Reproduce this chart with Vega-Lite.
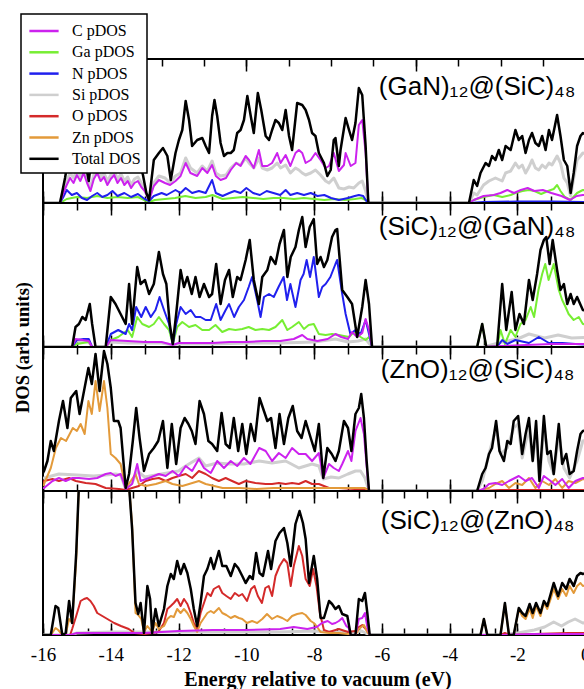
{
"$schema":"https://vega.github.io/schema/vega-lite/v6.json",
"padding":{"left":12,"top":13,"right":0,"bottom":0},
"background":"white",
"spacing":0,
"bounds":"flush",
"config":{"view":{"stroke":"black","strokeWidth":2},"axis":{"domain":false,"grid":false,"tickColor":"black","tickWidth":1.5,"labelColor":"black","titleColor":"black","labelFont":"Liberation Serif","titleFont":"Liberation Serif"},"legend":{"strokeWidth":1.5},"concat":{"spacing":0}},
"datasets":{
"p1":[
{"s":"Si","x":-15.5,"y":0},{"s":"Si","x":-15.4,"y":12},{"s":"Si","x":-15.3,"y":22},{"s":"Si","x":-15.2,"y":30},{"s":"Si","x":-15.1,"y":25},{"s":"Si","x":-15.0,"y":33},{"s":"Si","x":-14.9,"y":27},{"s":"Si","x":-14.8,"y":35},{"s":"Si","x":-14.7,"y":25},{"s":"Si","x":-14.6,"y":15},{"s":"Si","x":-14.5,"y":28},{"s":"Si","x":-14.4,"y":33},{"s":"Si","x":-14.3,"y":26},{"s":"Si","x":-14.2,"y":30},{"s":"Si","x":-14.1,"y":22},{"s":"Si","x":-14.0,"y":28},{"s":"Si","x":-13.9,"y":32},{"s":"Si","x":-13.8,"y":24},{"s":"Si","x":-13.7,"y":29},{"s":"Si","x":-13.6,"y":22},{"s":"Si","x":-13.5,"y":26},{"s":"Si","x":-13.4,"y":18},{"s":"Si","x":-13.3,"y":24},{"s":"Si","x":-13.2,"y":26},{"s":"Si","x":-13.1,"y":20},{"s":"Si","x":-13.0,"y":14},{"s":"Si","x":-12.87,"y":3},{"s":"Si","x":-12.73,"y":20},{"s":"Si","x":-12.58,"y":27},{"s":"Si","x":-12.4,"y":25},{"s":"Si","x":-12.25,"y":20},{"s":"Si","x":-12.09,"y":27},{"s":"Si","x":-11.94,"y":30},{"s":"Si","x":-11.79,"y":45},{"s":"Si","x":-11.65,"y":35},{"s":"Si","x":-11.45,"y":30},{"s":"Si","x":-11.3,"y":37},{"s":"Si","x":-11.15,"y":32},{"s":"Si","x":-11.01,"y":42},{"s":"Si","x":-10.9,"y":30},{"s":"Si","x":-10.76,"y":27},{"s":"Si","x":-10.6,"y":28},{"s":"Si","x":-10.46,"y":35},{"s":"Si","x":-10.3,"y":40},{"s":"Si","x":-10.17,"y":38},{"s":"Si","x":-10.02,"y":45},{"s":"Si","x":-9.92,"y":40},{"s":"Si","x":-9.78,"y":35},{"s":"Si","x":-9.63,"y":45},{"s":"Si","x":-9.53,"y":35},{"s":"Si","x":-9.38,"y":33},{"s":"Si","x":-9.24,"y":35},{"s":"Si","x":-9.09,"y":40},{"s":"Si","x":-8.99,"y":35},{"s":"Si","x":-8.84,"y":38},{"s":"Si","x":-8.7,"y":30},{"s":"Si","x":-8.55,"y":35},{"s":"Si","x":-8.45,"y":33},{"s":"Si","x":-8.35,"y":30},{"s":"Si","x":-8.25,"y":28},{"s":"Si","x":-8.1,"y":30},{"s":"Si","x":-7.96,"y":33},{"s":"Si","x":-7.81,"y":28},{"s":"Si","x":-7.66,"y":22},{"s":"Si","x":-7.56,"y":20},{"s":"Si","x":-7.42,"y":25},{"s":"Si","x":-7.27,"y":15},{"s":"Si","x":-7.12,"y":14},{"s":"Si","x":-6.97,"y":16},{"s":"Si","x":-6.83,"y":15},{"s":"Si","x":-6.68,"y":20},{"s":"Si","x":-6.58,"y":22},{"s":"Si","x":-6.48,"y":12},{"s":"Si","x":-6.4,"y":0},{"s":"Si","x":-3.43,"y":0},{"s":"Si","x":-3.29,"y":10},{"s":"Si","x":-3.19,"y":8},{"s":"Si","x":-3.0,"y":18},{"s":"Si","x":-2.84,"y":22},{"s":"Si","x":-2.65,"y":25},{"s":"Si","x":-2.45,"y":22},{"s":"Si","x":-2.35,"y":30},{"s":"Si","x":-2.2,"y":32},{"s":"Si","x":-2.06,"y":40},{"s":"Si","x":-1.96,"y":35},{"s":"Si","x":-1.86,"y":38},{"s":"Si","x":-1.76,"y":30},{"s":"Si","x":-1.66,"y":36},{"s":"Si","x":-1.57,"y":43},{"s":"Si","x":-1.47,"y":35},{"s":"Si","x":-1.37,"y":33},{"s":"Si","x":-1.27,"y":38},{"s":"Si","x":-1.17,"y":35},{"s":"Si","x":-1.07,"y":40},{"s":"Si","x":-0.98,"y":38},{"s":"Si","x":-0.83,"y":47},{"s":"Si","x":-0.73,"y":40},{"s":"Si","x":-0.63,"y":25},{"s":"Si","x":-0.53,"y":20},{"s":"Si","x":-0.43,"y":7},{"s":"Si","x":-0.34,"y":25},{"s":"Si","x":-0.24,"y":43},{"s":"Si","x":-0.14,"y":47},{"s":"Si","x":-0.07,"y":50},{"s":"Si","x":0.2,"y":48},
{"s":"Ga","x":-15.5,"y":0},{"s":"Ga","x":-15.3,"y":4},{"s":"Ga","x":-15.0,"y":6},{"s":"Ga","x":-14.7,"y":5},{"s":"Ga","x":-14.4,"y":7},{"s":"Ga","x":-14.1,"y":5},{"s":"Ga","x":-13.8,"y":6},{"s":"Ga","x":-13.5,"y":5},{"s":"Ga","x":-13.2,"y":6},{"s":"Ga","x":-12.95,"y":2},{"s":"Ga","x":-12.87,"y":1},{"s":"Ga","x":-12.7,"y":3},{"s":"Ga","x":-12.4,"y":4},{"s":"Ga","x":-12.1,"y":5},{"s":"Ga","x":-11.8,"y":7},{"s":"Ga","x":-11.5,"y":5},{"s":"Ga","x":-11.2,"y":6},{"s":"Ga","x":-11.0,"y":8},{"s":"Ga","x":-10.7,"y":4},{"s":"Ga","x":-10.4,"y":5},{"s":"Ga","x":-10.1,"y":6},{"s":"Ga","x":-9.8,"y":5},{"s":"Ga","x":-9.5,"y":4},{"s":"Ga","x":-9.2,"y":5},{"s":"Ga","x":-8.9,"y":5},{"s":"Ga","x":-8.6,"y":4},{"s":"Ga","x":-8.3,"y":5},{"s":"Ga","x":-8.0,"y":4},{"s":"Ga","x":-7.7,"y":3},{"s":"Ga","x":-7.4,"y":4},{"s":"Ga","x":-7.1,"y":3},{"s":"Ga","x":-6.8,"y":4},{"s":"Ga","x":-6.6,"y":5},{"s":"Ga","x":-6.48,"y":3},{"s":"Ga","x":-6.4,"y":0},{"s":"Ga","x":-3.43,"y":0},{"s":"Ga","x":-3.29,"y":3},{"s":"Ga","x":-3.0,"y":6},{"s":"Ga","x":-2.7,"y":8},{"s":"Ga","x":-2.45,"y":6},{"s":"Ga","x":-2.2,"y":8},{"s":"Ga","x":-2.06,"y":10},{"s":"Ga","x":-1.85,"y":12},{"s":"Ga","x":-1.66,"y":13},{"s":"Ga","x":-1.5,"y":12},{"s":"Ga","x":-1.3,"y":9},{"s":"Ga","x":-1.1,"y":12},{"s":"Ga","x":-0.93,"y":14},{"s":"Ga","x":-0.83,"y":18},{"s":"Ga","x":-0.73,"y":12},{"s":"Ga","x":-0.6,"y":6},{"s":"Ga","x":-0.43,"y":3},{"s":"Ga","x":-0.24,"y":10},{"s":"Ga","x":-0.07,"y":13},{"s":"Ga","x":0.2,"y":12},
{"s":"N","x":-15.5,"y":0},{"s":"N","x":-15.4,"y":6},{"s":"N","x":-15.3,"y":13},{"s":"N","x":-15.15,"y":8},{"s":"N","x":-15.0,"y":10},{"s":"N","x":-14.85,"y":5},{"s":"N","x":-14.7,"y":3},{"s":"N","x":-14.55,"y":7},{"s":"N","x":-14.4,"y":10},{"s":"N","x":-14.25,"y":6},{"s":"N","x":-14.1,"y":8},{"s":"N","x":-13.95,"y":12},{"s":"N","x":-13.8,"y":7},{"s":"N","x":-13.6,"y":10},{"s":"N","x":-13.4,"y":6},{"s":"N","x":-13.2,"y":9},{"s":"N","x":-13.0,"y":4},{"s":"N","x":-12.87,"y":2},{"s":"N","x":-12.73,"y":7},{"s":"N","x":-12.5,"y":10},{"s":"N","x":-12.35,"y":8},{"s":"N","x":-12.09,"y":13},{"s":"N","x":-11.94,"y":10},{"s":"N","x":-11.79,"y":15},{"s":"N","x":-11.6,"y":10},{"s":"N","x":-11.4,"y":12},{"s":"N","x":-11.2,"y":10},{"s":"N","x":-11.01,"y":23},{"s":"N","x":-10.9,"y":10},{"s":"N","x":-10.7,"y":7},{"s":"N","x":-10.5,"y":10},{"s":"N","x":-10.35,"y":12},{"s":"N","x":-10.17,"y":10},{"s":"N","x":-10.0,"y":15},{"s":"N","x":-9.8,"y":10},{"s":"N","x":-9.6,"y":8},{"s":"N","x":-9.4,"y":12},{"s":"N","x":-9.2,"y":10},{"s":"N","x":-9.0,"y":8},{"s":"N","x":-8.84,"y":13},{"s":"N","x":-8.7,"y":8},{"s":"N","x":-8.5,"y":10},{"s":"N","x":-8.3,"y":8},{"s":"N","x":-8.1,"y":10},{"s":"N","x":-7.9,"y":7},{"s":"N","x":-7.7,"y":8},{"s":"N","x":-7.5,"y":5},{"s":"N","x":-7.27,"y":3},{"s":"N","x":-7.0,"y":5},{"s":"N","x":-6.8,"y":7},{"s":"N","x":-6.68,"y":8},{"s":"N","x":-6.55,"y":7},{"s":"N","x":-6.48,"y":3},{"s":"N","x":-6.4,"y":0},{"s":"N","x":-3.43,"y":0},{"s":"N","x":-3.0,"y":1},{"s":"N","x":-2.0,"y":1.5},{"s":"N","x":-1.0,"y":1.5},{"s":"N","x":0.2,"y":1},
{"s":"C","x":-15.5,"y":0},{"s":"C","x":-15.4,"y":10},{"s":"C","x":-15.3,"y":18},{"s":"C","x":-15.2,"y":25},{"s":"C","x":-15.1,"y":20},{"s":"C","x":-15.0,"y":28},{"s":"C","x":-14.9,"y":22},{"s":"C","x":-14.8,"y":30},{"s":"C","x":-14.7,"y":20},{"s":"C","x":-14.6,"y":12},{"s":"C","x":-14.5,"y":24},{"s":"C","x":-14.4,"y":30},{"s":"C","x":-14.3,"y":22},{"s":"C","x":-14.2,"y":26},{"s":"C","x":-14.1,"y":18},{"s":"C","x":-14.0,"y":24},{"s":"C","x":-13.9,"y":28},{"s":"C","x":-13.8,"y":20},{"s":"C","x":-13.7,"y":25},{"s":"C","x":-13.6,"y":18},{"s":"C","x":-13.5,"y":22},{"s":"C","x":-13.4,"y":15},{"s":"C","x":-13.3,"y":20},{"s":"C","x":-13.2,"y":22},{"s":"C","x":-13.1,"y":16},{"s":"C","x":-13.0,"y":12},{"s":"C","x":-12.87,"y":3},{"s":"C","x":-12.73,"y":17},{"s":"C","x":-12.58,"y":23},{"s":"C","x":-12.4,"y":20},{"s":"C","x":-12.25,"y":18},{"s":"C","x":-12.09,"y":22},{"s":"C","x":-11.94,"y":27},{"s":"C","x":-11.79,"y":40},{"s":"C","x":-11.65,"y":30},{"s":"C","x":-11.45,"y":27},{"s":"C","x":-11.3,"y":35},{"s":"C","x":-11.15,"y":30},{"s":"C","x":-11.01,"y":38},{"s":"C","x":-10.9,"y":27},{"s":"C","x":-10.76,"y":23},{"s":"C","x":-10.6,"y":25},{"s":"C","x":-10.46,"y":33},{"s":"C","x":-10.3,"y":40},{"s":"C","x":-10.17,"y":37},{"s":"C","x":-10.02,"y":47},{"s":"C","x":-9.92,"y":43},{"s":"C","x":-9.78,"y":35},{"s":"C","x":-9.63,"y":53},{"s":"C","x":-9.53,"y":37},{"s":"C","x":-9.38,"y":37},{"s":"C","x":-9.24,"y":40},{"s":"C","x":-9.09,"y":50},{"s":"C","x":-8.99,"y":40},{"s":"C","x":-8.84,"y":48},{"s":"C","x":-8.7,"y":37},{"s":"C","x":-8.55,"y":50},{"s":"C","x":-8.45,"y":53},{"s":"C","x":-8.35,"y":50},{"s":"C","x":-8.25,"y":40},{"s":"C","x":-8.1,"y":43},{"s":"C","x":-7.96,"y":50},{"s":"C","x":-7.81,"y":43},{"s":"C","x":-7.66,"y":35},{"s":"C","x":-7.56,"y":37},{"s":"C","x":-7.42,"y":50},{"s":"C","x":-7.27,"y":32},{"s":"C","x":-7.12,"y":38},{"s":"C","x":-7.07,"y":50},{"s":"C","x":-6.92,"y":37},{"s":"C","x":-6.78,"y":40},{"s":"C","x":-6.68,"y":78},{"s":"C","x":-6.58,"y":83},{"s":"C","x":-6.48,"y":50},{"s":"C","x":-6.4,"y":0},{"s":"C","x":-3.43,"y":0},{"s":"C","x":-3.29,"y":3},{"s":"C","x":-3.0,"y":7},{"s":"C","x":-2.7,"y":8},{"s":"C","x":-2.5,"y":10},{"s":"C","x":-2.3,"y":13},{"s":"C","x":-2.1,"y":10},{"s":"C","x":-1.9,"y":13},{"s":"C","x":-1.7,"y":15},{"s":"C","x":-1.5,"y":12},{"s":"C","x":-1.25,"y":13},{"s":"C","x":-1.0,"y":10},{"s":"C","x":-0.7,"y":7},{"s":"C","x":-0.45,"y":3},{"s":"C","x":-0.25,"y":7},{"s":"C","x":-0.07,"y":8},{"s":"C","x":0.2,"y":8},
{"s":"T","x":-16,"y":0},{"s":"T","x":-15.5,"y":0},{"s":"T","x":-15.45,"y":8},{"s":"T","x":-15.35,"y":25},{"s":"T","x":-15.25,"y":45},{"s":"T","x":-15.15,"y":38},{"s":"T","x":-15.05,"y":60},{"s":"T","x":-14.95,"y":48},{"s":"T","x":-14.85,"y":70},{"s":"T","x":-14.75,"y":42},{"s":"T","x":-14.65,"y":22},{"s":"T","x":-14.55,"y":50},{"s":"T","x":-14.45,"y":68},{"s":"T","x":-14.35,"y":48},{"s":"T","x":-14.25,"y":62},{"s":"T","x":-14.15,"y":40},{"s":"T","x":-14.05,"y":55},{"s":"T","x":-13.95,"y":72},{"s":"T","x":-13.85,"y":48},{"s":"T","x":-13.75,"y":62},{"s":"T","x":-13.65,"y":40},{"s":"T","x":-13.55,"y":55},{"s":"T","x":-13.45,"y":35},{"s":"T","x":-13.35,"y":48},{"s":"T","x":-13.25,"y":58},{"s":"T","x":-13.15,"y":40},{"s":"T","x":-13.05,"y":28},{"s":"T","x":-12.95,"y":10},{"s":"T","x":-12.87,"y":3},{"s":"T","x":-12.73,"y":43},{"s":"T","x":-12.58,"y":50},{"s":"T","x":-12.46,"y":55},{"s":"T","x":-12.33,"y":47},{"s":"T","x":-12.23,"y":23},{"s":"T","x":-12.09,"y":50},{"s":"T","x":-11.99,"y":63},{"s":"T","x":-11.89,"y":73},{"s":"T","x":-11.79,"y":102},{"s":"T","x":-11.69,"y":83},{"s":"T","x":-11.6,"y":57},{"s":"T","x":-11.45,"y":63},{"s":"T","x":-11.3,"y":65},{"s":"T","x":-11.2,"y":57},{"s":"T","x":-11.1,"y":50},{"s":"T","x":-11.01,"y":87},{"s":"T","x":-10.94,"y":103},{"s":"T","x":-10.86,"y":87},{"s":"T","x":-10.76,"y":60},{"s":"T","x":-10.66,"y":47},{"s":"T","x":-10.56,"y":50},{"s":"T","x":-10.46,"y":50},{"s":"T","x":-10.37,"y":53},{"s":"T","x":-10.27,"y":70},{"s":"T","x":-10.17,"y":73},{"s":"T","x":-10.07,"y":83},{"s":"T","x":-9.97,"y":107},{"s":"T","x":-9.87,"y":87},{"s":"T","x":-9.78,"y":70},{"s":"T","x":-9.66,"y":110},{"s":"T","x":-9.56,"y":93},{"s":"T","x":-9.43,"y":67},{"s":"T","x":-9.33,"y":63},{"s":"T","x":-9.24,"y":73},{"s":"T","x":-9.14,"y":83},{"s":"T","x":-9.04,"y":80},{"s":"T","x":-8.94,"y":73},{"s":"T","x":-8.84,"y":93},{"s":"T","x":-8.74,"y":67},{"s":"T","x":-8.65,"y":53},{"s":"T","x":-8.5,"y":100},{"s":"T","x":-8.35,"y":98},{"s":"T","x":-8.25,"y":93},{"s":"T","x":-8.15,"y":83},{"s":"T","x":-8.06,"y":70},{"s":"T","x":-7.96,"y":67},{"s":"T","x":-7.86,"y":50},{"s":"T","x":-7.71,"y":40},{"s":"T","x":-7.61,"y":27},{"s":"T","x":-7.51,"y":33},{"s":"T","x":-7.42,"y":63},{"s":"T","x":-7.37,"y":65},{"s":"T","x":-7.27,"y":37},{"s":"T","x":-7.22,"y":53},{"s":"T","x":-7.07,"y":85},{"s":"T","x":-6.97,"y":73},{"s":"T","x":-6.88,"y":63},{"s":"T","x":-6.78,"y":80},{"s":"T","x":-6.68,"y":115},{"s":"T","x":-6.58,"y":108},{"s":"T","x":-6.48,"y":57},{"s":"T","x":-6.4,"y":0},{"s":"T","x":-3.43,"y":0},{"s":"T","x":-3.29,"y":23},{"s":"T","x":-3.19,"y":17},{"s":"T","x":-3.09,"y":30},{"s":"T","x":-2.94,"y":40},{"s":"T","x":-2.84,"y":37},{"s":"T","x":-2.75,"y":47},{"s":"T","x":-2.65,"y":43},{"s":"T","x":-2.55,"y":53},{"s":"T","x":-2.45,"y":43},{"s":"T","x":-2.35,"y":57},{"s":"T","x":-2.2,"y":53},{"s":"T","x":-2.06,"y":73},{"s":"T","x":-1.96,"y":63},{"s":"T","x":-1.86,"y":67},{"s":"T","x":-1.76,"y":50},{"s":"T","x":-1.66,"y":63},{"s":"T","x":-1.57,"y":70},{"s":"T","x":-1.47,"y":60},{"s":"T","x":-1.37,"y":57},{"s":"T","x":-1.27,"y":67},{"s":"T","x":-1.17,"y":53},{"s":"T","x":-1.07,"y":73},{"s":"T","x":-0.98,"y":63},{"s":"T","x":-0.83,"y":88},{"s":"T","x":-0.73,"y":67},{"s":"T","x":-0.63,"y":43},{"s":"T","x":-0.53,"y":37},{"s":"T","x":-0.43,"y":10},{"s":"T","x":-0.34,"y":30},{"s":"T","x":-0.24,"y":57},{"s":"T","x":-0.14,"y":67},{"s":"T","x":-0.07,"y":70},{"s":"T","x":0.2,"y":65}
],
"p2":[
{"s":"Si","x":-15.14,"y":0},{"s":"Si","x":-15.04,"y":6},{"s":"Si","x":-14.65,"y":5},{"s":"Si","x":-14.55,"y":0},{"s":"Si","x":-14.15,"y":0},{"s":"Si","x":-14.0,"y":5},{"s":"Si","x":-13.5,"y":4},{"s":"Si","x":-13.0,"y":4},{"s":"Si","x":-12.5,"y":4},{"s":"Si","x":-12.17,"y":2},{"s":"Si","x":-12.0,"y":3},{"s":"Si","x":-11.0,"y":3},{"s":"Si","x":-10.0,"y":4},{"s":"Si","x":-9.0,"y":4},{"s":"Si","x":-8.0,"y":5},{"s":"Si","x":-7.37,"y":8},{"s":"Si","x":-7.0,"y":5},{"s":"Si","x":-6.7,"y":6},{"s":"Si","x":-6.48,"y":8},{"s":"Si","x":-6.29,"y":0},{"s":"Si","x":-3.0,"y":0},{"s":"Si","x":-2.45,"y":5},{"s":"Si","x":-2.0,"y":8},{"s":"Si","x":-1.66,"y":13},{"s":"Si","x":-1.2,"y":9},{"s":"Si","x":-0.8,"y":12},{"s":"Si","x":-0.4,"y":9},{"s":"Si","x":0.2,"y":10},
{"s":"Ga","x":-15.14,"y":0},{"s":"Ga","x":-15.0,"y":3},{"s":"Ga","x":-14.65,"y":5},{"s":"Ga","x":-14.55,"y":0},{"s":"Ga","x":-14.15,"y":0},{"s":"Ga","x":-14.0,"y":7},{"s":"Ga","x":-13.78,"y":10},{"s":"Ga","x":-13.5,"y":17},{"s":"Ga","x":-13.37,"y":10},{"s":"Ga","x":-13.22,"y":30},{"s":"Ga","x":-13.07,"y":23},{"s":"Ga","x":-12.87,"y":20},{"s":"Ga","x":-12.73,"y":23},{"s":"Ga","x":-12.58,"y":30},{"s":"Ga","x":-12.43,"y":23},{"s":"Ga","x":-12.28,"y":17},{"s":"Ga","x":-12.17,"y":3},{"s":"Ga","x":-12.04,"y":20},{"s":"Ga","x":-11.89,"y":25},{"s":"Ga","x":-11.69,"y":20},{"s":"Ga","x":-11.5,"y":22},{"s":"Ga","x":-11.3,"y":17},{"s":"Ga","x":-11.1,"y":17},{"s":"Ga","x":-10.91,"y":22},{"s":"Ga","x":-10.71,"y":15},{"s":"Ga","x":-10.51,"y":18},{"s":"Ga","x":-10.32,"y":17},{"s":"Ga","x":-10.12,"y":18},{"s":"Ga","x":-9.93,"y":20},{"s":"Ga","x":-9.73,"y":17},{"s":"Ga","x":-9.53,"y":18},{"s":"Ga","x":-9.33,"y":17},{"s":"Ga","x":-9.14,"y":20},{"s":"Ga","x":-8.94,"y":27},{"s":"Ga","x":-8.79,"y":17},{"s":"Ga","x":-8.65,"y":20},{"s":"Ga","x":-8.45,"y":25},{"s":"Ga","x":-8.3,"y":18},{"s":"Ga","x":-8.16,"y":22},{"s":"Ga","x":-8.01,"y":23},{"s":"Ga","x":-7.86,"y":13},{"s":"Ga","x":-7.66,"y":12},{"s":"Ga","x":-7.47,"y":13},{"s":"Ga","x":-7.27,"y":12},{"s":"Ga","x":-6.97,"y":10},{"s":"Ga","x":-6.88,"y":13},{"s":"Ga","x":-6.78,"y":15},{"s":"Ga","x":-6.63,"y":10},{"s":"Ga","x":-6.48,"y":7},{"s":"Ga","x":-6.38,"y":10},{"s":"Ga","x":-6.3,"y":3},{"s":"Ga","x":-6.29,"y":0},{"s":"Ga","x":-3.19,"y":0},{"s":"Ga","x":-3.04,"y":23},{"s":"Ga","x":-2.92,"y":0},{"s":"Ga","x":-2.6,"y":0},{"s":"Ga","x":-2.5,"y":17},{"s":"Ga","x":-2.37,"y":3},{"s":"Ga","x":-2.2,"y":17},{"s":"Ga","x":-2.06,"y":10},{"s":"Ga","x":-1.91,"y":23},{"s":"Ga","x":-1.76,"y":27},{"s":"Ga","x":-1.61,"y":40},{"s":"Ga","x":-1.51,"y":30},{"s":"Ga","x":-1.38,"y":57},{"s":"Ga","x":-1.27,"y":73},{"s":"Ga","x":-1.18,"y":83},{"s":"Ga","x":-1.08,"y":67},{"s":"Ga","x":-0.93,"y":83},{"s":"Ga","x":-0.78,"y":57},{"s":"Ga","x":-0.68,"y":47},{"s":"Ga","x":-0.58,"y":40},{"s":"Ga","x":-0.49,"y":33},{"s":"Ga","x":-0.34,"y":27},{"s":"Ga","x":-0.19,"y":30},{"s":"Ga","x":-0.07,"y":23},{"s":"Ga","x":0.2,"y":22},
{"s":"N","x":-15.14,"y":0},{"s":"N","x":-15.0,"y":7},{"s":"N","x":-14.8,"y":8},{"s":"N","x":-14.65,"y":8},{"s":"N","x":-14.55,"y":0},{"s":"N","x":-14.15,"y":0},{"s":"N","x":-14.0,"y":13},{"s":"N","x":-13.78,"y":17},{"s":"N","x":-13.56,"y":13},{"s":"N","x":-13.46,"y":23},{"s":"N","x":-13.37,"y":17},{"s":"N","x":-13.25,"y":40},{"s":"N","x":-13.1,"y":30},{"s":"N","x":-12.97,"y":40},{"s":"N","x":-12.82,"y":30},{"s":"N","x":-12.68,"y":37},{"s":"N","x":-12.56,"y":50},{"s":"N","x":-12.43,"y":37},{"s":"N","x":-12.28,"y":23},{"s":"N","x":-12.17,"y":3},{"s":"N","x":-12.07,"y":23},{"s":"N","x":-11.94,"y":40},{"s":"N","x":-11.79,"y":33},{"s":"N","x":-11.64,"y":37},{"s":"N","x":-11.5,"y":30},{"s":"N","x":-11.35,"y":30},{"s":"N","x":-11.2,"y":27},{"s":"N","x":-11.05,"y":27},{"s":"N","x":-10.89,"y":43},{"s":"N","x":-10.76,"y":27},{"s":"N","x":-10.61,"y":37},{"s":"N","x":-10.51,"y":43},{"s":"N","x":-10.36,"y":30},{"s":"N","x":-10.22,"y":40},{"s":"N","x":-10.07,"y":47},{"s":"N","x":-9.93,"y":60},{"s":"N","x":-9.83,"y":70},{"s":"N","x":-9.68,"y":47},{"s":"N","x":-9.58,"y":30},{"s":"N","x":-9.48,"y":50},{"s":"N","x":-9.33,"y":53},{"s":"N","x":-9.19,"y":50},{"s":"N","x":-9.05,"y":60},{"s":"N","x":-8.9,"y":70},{"s":"N","x":-8.8,"y":47},{"s":"N","x":-8.7,"y":63},{"s":"N","x":-8.55,"y":40},{"s":"N","x":-8.4,"y":67},{"s":"N","x":-8.31,"y":73},{"s":"N","x":-8.22,"y":87},{"s":"N","x":-8.12,"y":70},{"s":"N","x":-8.01,"y":90},{"s":"N","x":-7.86,"y":50},{"s":"N","x":-7.76,"y":60},{"s":"N","x":-7.66,"y":63},{"s":"N","x":-7.52,"y":70},{"s":"N","x":-7.37,"y":83},{"s":"N","x":-7.32,"y":87},{"s":"N","x":-7.17,"y":53},{"s":"N","x":-7.07,"y":33},{"s":"N","x":-6.93,"y":13},{"s":"N","x":-6.78,"y":17},{"s":"N","x":-6.63,"y":13},{"s":"N","x":-6.48,"y":27},{"s":"N","x":-6.38,"y":13},{"s":"N","x":-6.29,"y":0},{"s":"N","x":-2.6,"y":0},{"s":"N","x":-2.45,"y":7},{"s":"N","x":-2.3,"y":3},{"s":"N","x":-2.06,"y":7},{"s":"N","x":-1.66,"y":4},{"s":"N","x":-1.37,"y":10},{"s":"N","x":-1.07,"y":4},{"s":"N","x":-0.68,"y":4},{"s":"N","x":-0.29,"y":3},{"s":"N","x":0.2,"y":2},
{"s":"C","x":-15.14,"y":0},{"s":"C","x":-15.04,"y":8},{"s":"C","x":-14.65,"y":6},{"s":"C","x":-14.55,"y":0},{"s":"C","x":-14.15,"y":0},{"s":"C","x":-14.0,"y":7},{"s":"C","x":-13.5,"y":6},{"s":"C","x":-13.0,"y":5},{"s":"C","x":-12.5,"y":5},{"s":"C","x":-12.17,"y":2},{"s":"C","x":-12.0,"y":4},{"s":"C","x":-11.5,"y":4},{"s":"C","x":-11.0,"y":4},{"s":"C","x":-10.5,"y":5},{"s":"C","x":-10.0,"y":5},{"s":"C","x":-9.5,"y":6},{"s":"C","x":-9.0,"y":6},{"s":"C","x":-8.6,"y":8},{"s":"C","x":-8.35,"y":12},{"s":"C","x":-8.2,"y":8},{"s":"C","x":-7.9,"y":6},{"s":"C","x":-7.6,"y":8},{"s":"C","x":-7.37,"y":13},{"s":"C","x":-7.2,"y":10},{"s":"C","x":-7.0,"y":8},{"s":"C","x":-6.88,"y":15},{"s":"C","x":-6.73,"y":10},{"s":"C","x":-6.58,"y":14},{"s":"C","x":-6.48,"y":28},{"s":"C","x":-6.38,"y":17},{"s":"C","x":-6.29,"y":0},{"s":"C","x":-3.0,"y":0},{"s":"C","x":-2.5,"y":1},{"s":"C","x":-1.0,"y":3},{"s":"C","x":0.2,"y":3},
{"s":"T","x":-16,"y":0},{"s":"T","x":-15.14,"y":0},{"s":"T","x":-15.04,"y":20},{"s":"T","x":-14.94,"y":23},{"s":"T","x":-14.84,"y":30},{"s":"T","x":-14.74,"y":27},{"s":"T","x":-14.62,"y":43},{"s":"T","x":-14.55,"y":23},{"s":"T","x":-14.45,"y":0},{"s":"T","x":-14.15,"y":0},{"s":"T","x":-14.0,"y":50},{"s":"T","x":-13.86,"y":43},{"s":"T","x":-13.71,"y":33},{"s":"T","x":-13.56,"y":23},{"s":"T","x":-13.46,"y":63},{"s":"T","x":-13.37,"y":23},{"s":"T","x":-13.22,"y":80},{"s":"T","x":-13.12,"y":63},{"s":"T","x":-12.99,"y":67},{"s":"T","x":-12.87,"y":53},{"s":"T","x":-12.73,"y":63},{"s":"T","x":-12.58,"y":95},{"s":"T","x":-12.46,"y":73},{"s":"T","x":-12.36,"y":63},{"s":"T","x":-12.26,"y":23},{"s":"T","x":-12.17,"y":3},{"s":"T","x":-12.07,"y":33},{"s":"T","x":-11.94,"y":77},{"s":"T","x":-11.84,"y":60},{"s":"T","x":-11.74,"y":70},{"s":"T","x":-11.61,"y":53},{"s":"T","x":-11.5,"y":70},{"s":"T","x":-11.38,"y":50},{"s":"T","x":-11.25,"y":63},{"s":"T","x":-11.1,"y":50},{"s":"T","x":-11.01,"y":53},{"s":"T","x":-10.89,"y":83},{"s":"T","x":-10.76,"y":43},{"s":"T","x":-10.63,"y":67},{"s":"T","x":-10.51,"y":77},{"s":"T","x":-10.4,"y":50},{"s":"T","x":-10.27,"y":70},{"s":"T","x":-10.17,"y":67},{"s":"T","x":-10.02,"y":87},{"s":"T","x":-9.9,"y":107},{"s":"T","x":-9.78,"y":67},{"s":"T","x":-9.63,"y":43},{"s":"T","x":-9.53,"y":70},{"s":"T","x":-9.38,"y":77},{"s":"T","x":-9.28,"y":90},{"s":"T","x":-9.14,"y":83},{"s":"T","x":-9.02,"y":103},{"s":"T","x":-8.89,"y":117},{"s":"T","x":-8.79,"y":70},{"s":"T","x":-8.69,"y":90},{"s":"T","x":-8.55,"y":100},{"s":"T","x":-8.45,"y":117},{"s":"T","x":-8.35,"y":130},{"s":"T","x":-8.25,"y":100},{"s":"T","x":-8.13,"y":120},{"s":"T","x":-8.01,"y":128},{"s":"T","x":-7.91,"y":83},{"s":"T","x":-7.81,"y":90},{"s":"T","x":-7.71,"y":80},{"s":"T","x":-7.61,"y":87},{"s":"T","x":-7.47,"y":110},{"s":"T","x":-7.37,"y":117},{"s":"T","x":-7.32,"y":118},{"s":"T","x":-7.17,"y":57},{"s":"T","x":-7.02,"y":50},{"s":"T","x":-6.88,"y":43},{"s":"T","x":-6.73,"y":10},{"s":"T","x":-6.58,"y":40},{"s":"T","x":-6.48,"y":67},{"s":"T","x":-6.38,"y":43},{"s":"T","x":-6.29,"y":0},{"s":"T","x":-3.19,"y":0},{"s":"T","x":-3.04,"y":23},{"s":"T","x":-2.92,"y":0},{"s":"T","x":-2.6,"y":0},{"s":"T","x":-2.45,"y":63},{"s":"T","x":-2.33,"y":17},{"s":"T","x":-2.17,"y":55},{"s":"T","x":-2.06,"y":17},{"s":"T","x":-1.94,"y":33},{"s":"T","x":-1.81,"y":23},{"s":"T","x":-1.66,"y":67},{"s":"T","x":-1.55,"y":47},{"s":"T","x":-1.42,"y":73},{"s":"T","x":-1.32,"y":97},{"s":"T","x":-1.22,"y":107},{"s":"T","x":-1.15,"y":110},{"s":"T","x":-1.05,"y":83},{"s":"T","x":-0.96,"y":107},{"s":"T","x":-0.83,"y":77},{"s":"T","x":-0.73,"y":57},{"s":"T","x":-0.63,"y":63},{"s":"T","x":-0.53,"y":43},{"s":"T","x":-0.43,"y":53},{"s":"T","x":-0.34,"y":43},{"s":"T","x":-0.24,"y":50},{"s":"T","x":-0.07,"y":37},{"s":"T","x":0.2,"y":35}
],
"p3":[
{"s":"Si","x":-16,"y":12},{"s":"Si","x":-15.97,"y":13},{"s":"Si","x":-15.53,"y":17},{"s":"Si","x":-15.0,"y":16},{"s":"Si","x":-14.5,"y":15},{"s":"Si","x":-14.15,"y":16},{"s":"Si","x":-13.86,"y":17},{"s":"Si","x":-13.71,"y":16},{"s":"Si","x":-13.56,"y":2},{"s":"Si","x":-13.37,"y":8},{"s":"Si","x":-13.22,"y":20},{"s":"Si","x":-13.0,"y":14},{"s":"Si","x":-12.5,"y":17},{"s":"Si","x":-12.0,"y":20},{"s":"Si","x":-11.79,"y":25},{"s":"Si","x":-11.4,"y":33},{"s":"Si","x":-11.2,"y":25},{"s":"Si","x":-10.86,"y":28},{"s":"Si","x":-10.5,"y":27},{"s":"Si","x":-10.07,"y":27},{"s":"Si","x":-9.62,"y":30},{"s":"Si","x":-9.24,"y":28},{"s":"Si","x":-8.84,"y":30},{"s":"Si","x":-8.45,"y":23},{"s":"Si","x":-8.06,"y":27},{"s":"Si","x":-7.86,"y":25},{"s":"Si","x":-7.73,"y":12},{"s":"Si","x":-7.5,"y":14},{"s":"Si","x":-7.27,"y":13},{"s":"Si","x":-7.0,"y":17},{"s":"Si","x":-6.78,"y":20},{"s":"Si","x":-6.63,"y":20},{"s":"Si","x":-6.5,"y":13},{"s":"Si","x":-6.38,"y":0},{"s":"Si","x":-3.19,"y":0},{"s":"Si","x":-3.04,"y":10},{"s":"Si","x":-2.94,"y":23},{"s":"Si","x":-2.84,"y":37},{"s":"Si","x":-2.63,"y":63},{"s":"Si","x":-2.5,"y":37},{"s":"Si","x":-2.3,"y":43},{"s":"Si","x":-2.11,"y":63},{"s":"Si","x":-1.98,"y":67},{"s":"Si","x":-1.86,"y":33},{"s":"Si","x":-1.66,"y":63},{"s":"Si","x":-1.55,"y":30},{"s":"Si","x":-1.45,"y":60},{"s":"Si","x":-1.35,"y":10},{"s":"Si","x":-1.22,"y":63},{"s":"Si","x":-1.07,"y":30},{"s":"Si","x":-0.93,"y":17},{"s":"Si","x":-0.78,"y":57},{"s":"Si","x":-0.63,"y":23},{"s":"Si","x":-0.46,"y":13},{"s":"Si","x":-0.24,"y":30},{"s":"Si","x":-0.07,"y":50},{"s":"Si","x":0.2,"y":52},
{"s":"O","x":-16,"y":8},{"s":"O","x":-15.97,"y":10},{"s":"O","x":-15.72,"y":12},{"s":"O","x":-15.53,"y":10},{"s":"O","x":-15.23,"y":13},{"s":"O","x":-15.03,"y":10},{"s":"O","x":-14.74,"y":8},{"s":"O","x":-14.45,"y":7},{"s":"O","x":-14.15,"y":3},{"s":"O","x":-13.76,"y":2},{"s":"O","x":-13.56,"y":1},{"s":"O","x":-13.37,"y":3},{"s":"O","x":-13.17,"y":5},{"s":"O","x":-12.97,"y":10},{"s":"O","x":-12.77,"y":12},{"s":"O","x":-12.58,"y":13},{"s":"O","x":-12.38,"y":10},{"s":"O","x":-12.18,"y":13},{"s":"O","x":-11.99,"y":15},{"s":"O","x":-11.79,"y":17},{"s":"O","x":-11.6,"y":13},{"s":"O","x":-11.4,"y":20},{"s":"O","x":-11.2,"y":17},{"s":"O","x":-11.01,"y":13},{"s":"O","x":-10.81,"y":10},{"s":"O","x":-10.61,"y":13},{"s":"O","x":-10.42,"y":10},{"s":"O","x":-10.22,"y":7},{"s":"O","x":-10.02,"y":10},{"s":"O","x":-9.73,"y":8},{"s":"O","x":-9.43,"y":7},{"s":"O","x":-9.24,"y":7},{"s":"O","x":-9.04,"y":8},{"s":"O","x":-8.84,"y":7},{"s":"O","x":-8.65,"y":8},{"s":"O","x":-8.45,"y":7},{"s":"O","x":-8.25,"y":10},{"s":"O","x":-8.06,"y":7},{"s":"O","x":-7.86,"y":7},{"s":"O","x":-7.56,"y":3},{"s":"O","x":-7.27,"y":3},{"s":"O","x":-6.8,"y":2},{"s":"O","x":-6.45,"y":2},{"s":"O","x":-6.38,"y":0},{"s":"O","x":-3.19,"y":0},{"s":"O","x":-2.5,"y":1},{"s":"O","x":-1.0,"y":1},{"s":"O","x":0.2,"y":1},
{"s":"Zn","x":-16,"y":5},{"s":"Zn","x":-15.97,"y":7},{"s":"Zn","x":-15.77,"y":23},{"s":"Zn","x":-15.62,"y":43},{"s":"Zn","x":-15.47,"y":53},{"s":"Zn","x":-15.32,"y":50},{"s":"Zn","x":-15.12,"y":63},{"s":"Zn","x":-15.0,"y":60},{"s":"Zn","x":-14.89,"y":67},{"s":"Zn","x":-14.77,"y":57},{"s":"Zn","x":-14.66,"y":90},{"s":"Zn","x":-14.56,"y":77},{"s":"Zn","x":-14.45,"y":110},{"s":"Zn","x":-14.33,"y":80},{"s":"Zn","x":-14.2,"y":110},{"s":"Zn","x":-14.1,"y":83},{"s":"Zn","x":-14.0,"y":37},{"s":"Zn","x":-13.86,"y":33},{"s":"Zn","x":-13.71,"y":27},{"s":"Zn","x":-13.56,"y":3},{"s":"Zn","x":-13.41,"y":10},{"s":"Zn","x":-13.27,"y":17},{"s":"Zn","x":-13.17,"y":7},{"s":"Zn","x":-12.97,"y":5},{"s":"Zn","x":-12.67,"y":7},{"s":"Zn","x":-12.38,"y":10},{"s":"Zn","x":-12.18,"y":7},{"s":"Zn","x":-11.89,"y":5},{"s":"Zn","x":-11.69,"y":7},{"s":"Zn","x":-11.4,"y":10},{"s":"Zn","x":-11.2,"y":7},{"s":"Zn","x":-10.7,"y":3},{"s":"Zn","x":-10.2,"y":3},{"s":"Zn","x":-9.7,"y":2},{"s":"Zn","x":-9.2,"y":3},{"s":"Zn","x":-8.2,"y":3},{"s":"Zn","x":-7.27,"y":3},{"s":"Zn","x":-6.8,"y":3},{"s":"Zn","x":-6.5,"y":3},{"s":"Zn","x":-6.38,"y":0},{"s":"Zn","x":-3.19,"y":0},{"s":"Zn","x":-2.84,"y":3},{"s":"Zn","x":-2.65,"y":7},{"s":"Zn","x":-2.45,"y":10},{"s":"Zn","x":-2.25,"y":3},{"s":"Zn","x":-2.06,"y":8},{"s":"Zn","x":-1.86,"y":6},{"s":"Zn","x":-1.66,"y":13},{"s":"Zn","x":-1.47,"y":3},{"s":"Zn","x":-1.27,"y":10},{"s":"Zn","x":-1.07,"y":6},{"s":"Zn","x":-0.88,"y":12},{"s":"Zn","x":-0.68,"y":3},{"s":"Zn","x":-0.49,"y":10},{"s":"Zn","x":-0.29,"y":8},{"s":"Zn","x":-0.07,"y":12},{"s":"Zn","x":0.2,"y":11},
{"s":"C","x":-16,"y":3},{"s":"C","x":-15.97,"y":3},{"s":"C","x":-15.72,"y":10},{"s":"C","x":-15.53,"y":13},{"s":"C","x":-15.33,"y":10},{"s":"C","x":-15.13,"y":13},{"s":"C","x":-14.94,"y":13},{"s":"C","x":-14.64,"y":12},{"s":"C","x":-14.4,"y":13},{"s":"C","x":-14.15,"y":17},{"s":"C","x":-14.0,"y":18},{"s":"C","x":-13.86,"y":15},{"s":"C","x":-13.71,"y":17},{"s":"C","x":-13.56,"y":2},{"s":"C","x":-13.37,"y":7},{"s":"C","x":-13.22,"y":27},{"s":"C","x":-13.12,"y":10},{"s":"C","x":-12.87,"y":13},{"s":"C","x":-12.58,"y":17},{"s":"C","x":-12.38,"y":15},{"s":"C","x":-12.18,"y":20},{"s":"C","x":-11.99,"y":15},{"s":"C","x":-11.79,"y":25},{"s":"C","x":-11.6,"y":20},{"s":"C","x":-11.4,"y":32},{"s":"C","x":-11.25,"y":23},{"s":"C","x":-11.05,"y":18},{"s":"C","x":-10.86,"y":30},{"s":"C","x":-10.66,"y":23},{"s":"C","x":-10.46,"y":30},{"s":"C","x":-10.27,"y":25},{"s":"C","x":-10.07,"y":33},{"s":"C","x":-9.88,"y":27},{"s":"C","x":-9.62,"y":43},{"s":"C","x":-9.43,"y":40},{"s":"C","x":-9.24,"y":30},{"s":"C","x":-9.04,"y":38},{"s":"C","x":-8.84,"y":33},{"s":"C","x":-8.65,"y":43},{"s":"C","x":-8.45,"y":37},{"s":"C","x":-8.25,"y":37},{"s":"C","x":-8.06,"y":30},{"s":"C","x":-7.86,"y":38},{"s":"C","x":-7.73,"y":13},{"s":"C","x":-7.56,"y":27},{"s":"C","x":-7.42,"y":23},{"s":"C","x":-7.27,"y":20},{"s":"C","x":-7.17,"y":27},{"s":"C","x":-7.0,"y":40},{"s":"C","x":-6.9,"y":30},{"s":"C","x":-6.78,"y":60},{"s":"C","x":-6.63,"y":73},{"s":"C","x":-6.53,"y":57},{"s":"C","x":-6.43,"y":17},{"s":"C","x":-6.38,"y":0},{"s":"C","x":-3.19,"y":0},{"s":"C","x":-3.0,"y":2},{"s":"C","x":-2.84,"y":7},{"s":"C","x":-2.65,"y":8},{"s":"C","x":-2.45,"y":6},{"s":"C","x":-2.25,"y":10},{"s":"C","x":-1.96,"y":15},{"s":"C","x":-1.76,"y":10},{"s":"C","x":-1.57,"y":13},{"s":"C","x":-1.37,"y":3},{"s":"C","x":-1.22,"y":15},{"s":"C","x":-1.02,"y":10},{"s":"C","x":-0.88,"y":6},{"s":"C","x":-0.68,"y":12},{"s":"C","x":-0.49,"y":3},{"s":"C","x":-0.29,"y":10},{"s":"C","x":-0.07,"y":13},{"s":"C","x":0.2,"y":13},
{"s":"T","x":-16,"y":18},{"s":"T","x":-15.97,"y":20},{"s":"T","x":-15.87,"y":30},{"s":"T","x":-15.77,"y":50},{"s":"T","x":-15.68,"y":40},{"s":"T","x":-15.53,"y":70},{"s":"T","x":-15.41,"y":90},{"s":"T","x":-15.28,"y":63},{"s":"T","x":-15.18,"y":93},{"s":"T","x":-15.09,"y":97},{"s":"T","x":-15.02,"y":100},{"s":"T","x":-14.92,"y":77},{"s":"T","x":-14.79,"y":100},{"s":"T","x":-14.66,"y":123},{"s":"T","x":-14.56,"y":107},{"s":"T","x":-14.45,"y":137},{"s":"T","x":-14.33,"y":100},{"s":"T","x":-14.2,"y":140},{"s":"T","x":-14.1,"y":127},{"s":"T","x":-14.0,"y":103},{"s":"T","x":-13.91,"y":70},{"s":"T","x":-13.78,"y":70},{"s":"T","x":-13.71,"y":63},{"s":"T","x":-13.56,"y":3},{"s":"T","x":-13.46,"y":17},{"s":"T","x":-13.35,"y":50},{"s":"T","x":-13.25,"y":83},{"s":"T","x":-13.15,"y":53},{"s":"T","x":-13.02,"y":20},{"s":"T","x":-12.87,"y":37},{"s":"T","x":-12.73,"y":43},{"s":"T","x":-12.6,"y":50},{"s":"T","x":-12.46,"y":70},{"s":"T","x":-12.33,"y":23},{"s":"T","x":-12.2,"y":67},{"s":"T","x":-12.07,"y":27},{"s":"T","x":-11.94,"y":63},{"s":"T","x":-11.82,"y":73},{"s":"T","x":-11.71,"y":67},{"s":"T","x":-11.61,"y":60},{"s":"T","x":-11.5,"y":47},{"s":"T","x":-11.38,"y":90},{"s":"T","x":-11.25,"y":77},{"s":"T","x":-11.12,"y":50},{"s":"T","x":-11.01,"y":47},{"s":"T","x":-10.86,"y":40},{"s":"T","x":-10.73,"y":78},{"s":"T","x":-10.61,"y":47},{"s":"T","x":-10.49,"y":43},{"s":"T","x":-10.37,"y":73},{"s":"T","x":-10.24,"y":40},{"s":"T","x":-10.12,"y":67},{"s":"T","x":-10.0,"y":37},{"s":"T","x":-9.87,"y":67},{"s":"T","x":-9.75,"y":50},{"s":"T","x":-9.61,"y":93},{"s":"T","x":-9.51,"y":83},{"s":"T","x":-9.38,"y":70},{"s":"T","x":-9.27,"y":73},{"s":"T","x":-9.14,"y":43},{"s":"T","x":-9.02,"y":77},{"s":"T","x":-8.89,"y":47},{"s":"T","x":-8.76,"y":73},{"s":"T","x":-8.63,"y":85},{"s":"T","x":-8.5,"y":60},{"s":"T","x":-8.37,"y":53},{"s":"T","x":-8.25,"y":70},{"s":"T","x":-8.1,"y":53},{"s":"T","x":-7.98,"y":40},{"s":"T","x":-7.86,"y":67},{"s":"T","x":-7.73,"y":13},{"s":"T","x":-7.61,"y":43},{"s":"T","x":-7.48,"y":37},{"s":"T","x":-7.37,"y":30},{"s":"T","x":-7.27,"y":40},{"s":"T","x":-7.12,"y":70},{"s":"T","x":-7.0,"y":63},{"s":"T","x":-6.9,"y":40},{"s":"T","x":-6.78,"y":77},{"s":"T","x":-6.68,"y":83},{"s":"T","x":-6.61,"y":97},{"s":"T","x":-6.53,"y":73},{"s":"T","x":-6.45,"y":30},{"s":"T","x":-6.38,"y":0},{"s":"T","x":-3.19,"y":0},{"s":"T","x":-3.04,"y":17},{"s":"T","x":-2.94,"y":23},{"s":"T","x":-2.84,"y":37},{"s":"T","x":-2.75,"y":43},{"s":"T","x":-2.63,"y":70},{"s":"T","x":-2.53,"y":40},{"s":"T","x":-2.4,"y":30},{"s":"T","x":-2.3,"y":50},{"s":"T","x":-2.2,"y":47},{"s":"T","x":-2.11,"y":70},{"s":"T","x":-1.98,"y":75},{"s":"T","x":-1.86,"y":37},{"s":"T","x":-1.76,"y":57},{"s":"T","x":-1.66,"y":73},{"s":"T","x":-1.55,"y":30},{"s":"T","x":-1.45,"y":70},{"s":"T","x":-1.35,"y":10},{"s":"T","x":-1.22,"y":75},{"s":"T","x":-1.12,"y":37},{"s":"T","x":-1.02,"y":40},{"s":"T","x":-0.93,"y":17},{"s":"T","x":-0.78,"y":67},{"s":"T","x":-0.68,"y":27},{"s":"T","x":-0.56,"y":37},{"s":"T","x":-0.46,"y":17},{"s":"T","x":-0.34,"y":20},{"s":"T","x":-0.24,"y":40},{"s":"T","x":-0.14,"y":57},{"s":"T","x":-0.07,"y":60},{"s":"T","x":0.2,"y":62}
],
"p4":[
{"s":"Si","x":-16,"y":0},{"s":"Si","x":-15.2,"y":0},{"s":"Si","x":-15.0,"y":2},{"s":"Si","x":-14.0,"y":3},{"s":"Si","x":-13.0,"y":3},{"s":"Si","x":-12.0,"y":3},{"s":"Si","x":-11.0,"y":3},{"s":"Si","x":-10.0,"y":3},{"s":"Si","x":-9.0,"y":3},{"s":"Si","x":-8.0,"y":4},{"s":"Si","x":-7.5,"y":3},{"s":"Si","x":-7.0,"y":3},{"s":"Si","x":-6.6,"y":4},{"s":"Si","x":-6.36,"y":0},{"s":"Si","x":-2.5,"y":0},{"s":"Si","x":-2.0,"y":2},{"s":"Si","x":-1.5,"y":5},{"s":"Si","x":-1.2,"y":8},{"s":"Si","x":-0.93,"y":13},{"s":"Si","x":-0.7,"y":9},{"s":"Si","x":-0.5,"y":13},{"s":"Si","x":-0.3,"y":16},{"s":"Si","x":-0.07,"y":12},{"s":"Si","x":0.2,"y":13},
{"s":"O","x":-16,"y":0},{"s":"O","x":-15.2,"y":0},{"s":"O","x":-15.14,"y":6},{"s":"O","x":-15.02,"y":19},{"s":"O","x":-14.89,"y":34},{"s":"O","x":-14.79,"y":36},{"s":"O","x":-14.7,"y":37},{"s":"O","x":-14.6,"y":34},{"s":"O","x":-14.5,"y":29},{"s":"O","x":-14.4,"y":22},{"s":"O","x":-14.25,"y":19},{"s":"O","x":-14.1,"y":16},{"s":"O","x":-13.9,"y":12},{"s":"O","x":-13.7,"y":9},{"s":"O","x":-13.47,"y":6},{"s":"O","x":-13.3,"y":2},{"s":"O","x":-13.0,"y":1},{"s":"O","x":-12.78,"y":2},{"s":"O","x":-12.6,"y":3},{"s":"O","x":-12.43,"y":12},{"s":"O","x":-12.33,"y":26},{"s":"O","x":-12.23,"y":29},{"s":"O","x":-12.14,"y":32},{"s":"O","x":-12.04,"y":36},{"s":"O","x":-11.94,"y":29},{"s":"O","x":-11.84,"y":36},{"s":"O","x":-11.74,"y":31},{"s":"O","x":-11.64,"y":22},{"s":"O","x":-11.55,"y":12},{"s":"O","x":-11.45,"y":6},{"s":"O","x":-11.35,"y":22},{"s":"O","x":-11.25,"y":32},{"s":"O","x":-11.15,"y":42},{"s":"O","x":-11.05,"y":39},{"s":"O","x":-10.96,"y":46},{"s":"O","x":-10.81,"y":49},{"s":"O","x":-10.71,"y":42},{"s":"O","x":-10.59,"y":39},{"s":"O","x":-10.46,"y":36},{"s":"O","x":-10.34,"y":42},{"s":"O","x":-10.22,"y":39},{"s":"O","x":-10.12,"y":41},{"s":"O","x":-9.98,"y":34},{"s":"O","x":-9.86,"y":46},{"s":"O","x":-9.76,"y":49},{"s":"O","x":-9.66,"y":39},{"s":"O","x":-9.54,"y":32},{"s":"O","x":-9.44,"y":47},{"s":"O","x":-9.34,"y":49},{"s":"O","x":-9.24,"y":39},{"s":"O","x":-9.14,"y":59},{"s":"O","x":-9.02,"y":69},{"s":"O","x":-8.89,"y":76},{"s":"O","x":-8.79,"y":72},{"s":"O","x":-8.69,"y":49},{"s":"O","x":-8.6,"y":69},{"s":"O","x":-8.45,"y":89},{"s":"O","x":-8.35,"y":79},{"s":"O","x":-8.25,"y":56},{"s":"O","x":-8.13,"y":49},{"s":"O","x":-8.03,"y":66},{"s":"O","x":-7.93,"y":49},{"s":"O","x":-7.83,"y":22},{"s":"O","x":-7.71,"y":5},{"s":"O","x":-7.56,"y":3},{"s":"O","x":-7.27,"y":6},{"s":"O","x":-7.0,"y":3},{"s":"O","x":-6.78,"y":4},{"s":"O","x":-6.68,"y":8},{"s":"O","x":-6.58,"y":10},{"s":"O","x":-6.45,"y":5},{"s":"O","x":-6.36,"y":0},{"s":"O","x":-2.5,"y":0},{"s":"O","x":-2.37,"y":2},{"s":"O","x":-2.25,"y":0},{"s":"O","x":-1.5,"y":1},{"s":"O","x":-0.5,"y":2},{"s":"O","x":0.2,"y":2},
{"s":"Zn","x":-16,"y":0},{"s":"Zn","x":-15.77,"y":0},{"s":"Zn","x":-15.63,"y":7},{"s":"Zn","x":-15.55,"y":5},{"s":"Zn","x":-15.43,"y":0},{"s":"Zn","x":-15.33,"y":1},{"s":"Zn","x":-15.23,"y":16},{"s":"Zn","x":-15.14,"y":12},{"s":"Zn","x":-15.02,"y":75},{"s":"Zn","x":-14.94,"y":150},{"s":"Zn","x":-14.9,"y":300},{"s":"Zn","x":-14.5,"y":350},{"s":"Zn","x":-14.0,"y":350},{"s":"Zn","x":-13.6,"y":300},{"s":"Zn","x":-13.5,"y":180},{"s":"Zn","x":-13.46,"y":149},{"s":"Zn","x":-13.37,"y":110},{"s":"Zn","x":-13.27,"y":22},{"s":"Zn","x":-13.19,"y":20},{"s":"Zn","x":-13.1,"y":16},{"s":"Zn","x":-13.02,"y":3},{"s":"Zn","x":-12.92,"y":9},{"s":"Zn","x":-12.78,"y":3},{"s":"Zn","x":-12.68,"y":12},{"s":"Zn","x":-12.58,"y":6},{"s":"Zn","x":-12.43,"y":9},{"s":"Zn","x":-12.33,"y":16},{"s":"Zn","x":-12.23,"y":19},{"s":"Zn","x":-12.14,"y":18},{"s":"Zn","x":-12.04,"y":26},{"s":"Zn","x":-11.94,"y":22},{"s":"Zn","x":-11.84,"y":26},{"s":"Zn","x":-11.74,"y":22},{"s":"Zn","x":-11.64,"y":16},{"s":"Zn","x":-11.55,"y":9},{"s":"Zn","x":-11.45,"y":3},{"s":"Zn","x":-11.35,"y":12},{"s":"Zn","x":-11.25,"y":17},{"s":"Zn","x":-11.15,"y":22},{"s":"Zn","x":-11.05,"y":24},{"s":"Zn","x":-10.96,"y":22},{"s":"Zn","x":-10.81,"y":27},{"s":"Zn","x":-10.71,"y":22},{"s":"Zn","x":-10.59,"y":20},{"s":"Zn","x":-10.46,"y":17},{"s":"Zn","x":-10.34,"y":19},{"s":"Zn","x":-10.22,"y":17},{"s":"Zn","x":-10.12,"y":16},{"s":"Zn","x":-9.98,"y":12},{"s":"Zn","x":-9.83,"y":14},{"s":"Zn","x":-9.68,"y":12},{"s":"Zn","x":-9.53,"y":16},{"s":"Zn","x":-9.39,"y":21},{"s":"Zn","x":-9.24,"y":16},{"s":"Zn","x":-9.09,"y":19},{"s":"Zn","x":-8.94,"y":17},{"s":"Zn","x":-8.79,"y":14},{"s":"Zn","x":-8.65,"y":19},{"s":"Zn","x":-8.5,"y":21},{"s":"Zn","x":-8.35,"y":22},{"s":"Zn","x":-8.25,"y":20},{"s":"Zn","x":-8.1,"y":14},{"s":"Zn","x":-8.01,"y":12},{"s":"Zn","x":-7.91,"y":8},{"s":"Zn","x":-7.81,"y":3},{"s":"Zn","x":-7.56,"y":2},{"s":"Zn","x":-7.27,"y":2},{"s":"Zn","x":-7.0,"y":1},{"s":"Zn","x":-6.92,"y":0},{"s":"Zn","x":-6.78,"y":0},{"s":"Zn","x":-6.68,"y":6},{"s":"Zn","x":-6.53,"y":10},{"s":"Zn","x":-6.43,"y":3},{"s":"Zn","x":-6.36,"y":0},{"s":"Zn","x":-3.09,"y":0},{"s":"Zn","x":-2.99,"y":16},{"s":"Zn","x":-2.89,"y":0},{"s":"Zn","x":-2.5,"y":0},{"s":"Zn","x":-2.37,"y":31},{"s":"Zn","x":-2.25,"y":0},{"s":"Zn","x":-2.11,"y":0},{"s":"Zn","x":-1.96,"y":26},{"s":"Zn","x":-1.86,"y":19},{"s":"Zn","x":-1.76,"y":16},{"s":"Zn","x":-1.64,"y":26},{"s":"Zn","x":-1.55,"y":17},{"s":"Zn","x":-1.45,"y":29},{"s":"Zn","x":-1.32,"y":19},{"s":"Zn","x":-1.22,"y":32},{"s":"Zn","x":-1.12,"y":26},{"s":"Zn","x":-1.02,"y":36},{"s":"Zn","x":-0.93,"y":46},{"s":"Zn","x":-0.8,"y":36},{"s":"Zn","x":-0.68,"y":46},{"s":"Zn","x":-0.56,"y":39},{"s":"Zn","x":-0.46,"y":49},{"s":"Zn","x":-0.34,"y":42},{"s":"Zn","x":-0.24,"y":49},{"s":"Zn","x":-0.14,"y":52},{"s":"Zn","x":-0.07,"y":49},{"s":"Zn","x":0.2,"y":52},
{"s":"C","x":-16,"y":0},{"s":"C","x":-15.2,"y":0},{"s":"C","x":-15.0,"y":2},{"s":"C","x":-14.0,"y":2},{"s":"C","x":-13.0,"y":2},{"s":"C","x":-12.0,"y":4},{"s":"C","x":-11.0,"y":5},{"s":"C","x":-10.0,"y":5},{"s":"C","x":-9.0,"y":6},{"s":"C","x":-8.6,"y":8},{"s":"C","x":-8.2,"y":6},{"s":"C","x":-7.92,"y":8},{"s":"C","x":-7.77,"y":12},{"s":"C","x":-7.6,"y":14},{"s":"C","x":-7.47,"y":11},{"s":"C","x":-7.37,"y":12},{"s":"C","x":-7.27,"y":14},{"s":"C","x":-7.17,"y":17},{"s":"C","x":-7.05,"y":9},{"s":"C","x":-6.98,"y":7},{"s":"C","x":-6.92,"y":0},{"s":"C","x":-6.78,"y":0},{"s":"C","x":-6.68,"y":16},{"s":"C","x":-6.58,"y":17},{"s":"C","x":-6.5,"y":22},{"s":"C","x":-6.43,"y":8},{"s":"C","x":-6.36,"y":0},{"s":"C","x":-2.5,"y":0},{"s":"C","x":-1.5,"y":1},{"s":"C","x":0.2,"y":1},
{"s":"T","x":-16,"y":0},{"s":"T","x":-15.77,"y":0},{"s":"T","x":-15.63,"y":29},{"s":"T","x":-15.55,"y":27},{"s":"T","x":-15.43,"y":0},{"s":"T","x":-15.33,"y":2},{"s":"T","x":-15.23,"y":34},{"s":"T","x":-15.14,"y":12},{"s":"T","x":-15.02,"y":82},{"s":"T","x":-14.94,"y":150},{"s":"T","x":-14.9,"y":300},{"s":"T","x":-14.5,"y":350},{"s":"T","x":-14.0,"y":350},{"s":"T","x":-13.6,"y":300},{"s":"T","x":-13.5,"y":180},{"s":"T","x":-13.46,"y":149},{"s":"T","x":-13.37,"y":106},{"s":"T","x":-13.27,"y":32},{"s":"T","x":-13.19,"y":21},{"s":"T","x":-13.12,"y":32},{"s":"T","x":-13.02,"y":2},{"s":"T","x":-12.92,"y":49},{"s":"T","x":-12.84,"y":36},{"s":"T","x":-12.78,"y":2},{"s":"T","x":-12.68,"y":26},{"s":"T","x":-12.58,"y":9},{"s":"T","x":-12.43,"y":26},{"s":"T","x":-12.33,"y":49},{"s":"T","x":-12.23,"y":61},{"s":"T","x":-12.14,"y":56},{"s":"T","x":-12.04,"y":74},{"s":"T","x":-11.94,"y":61},{"s":"T","x":-11.84,"y":71},{"s":"T","x":-11.74,"y":62},{"s":"T","x":-11.64,"y":46},{"s":"T","x":-11.55,"y":26},{"s":"T","x":-11.45,"y":9},{"s":"T","x":-11.35,"y":32},{"s":"T","x":-11.25,"y":59},{"s":"T","x":-11.15,"y":66},{"s":"T","x":-11.05,"y":77},{"s":"T","x":-10.96,"y":66},{"s":"T","x":-10.81,"y":84},{"s":"T","x":-10.71,"y":69},{"s":"T","x":-10.59,"y":69},{"s":"T","x":-10.46,"y":59},{"s":"T","x":-10.34,"y":71},{"s":"T","x":-10.24,"y":67},{"s":"T","x":-10.12,"y":59},{"s":"T","x":-10.02,"y":52},{"s":"T","x":-9.9,"y":59},{"s":"T","x":-9.81,"y":56},{"s":"T","x":-9.71,"y":82},{"s":"T","x":-9.61,"y":62},{"s":"T","x":-9.51,"y":59},{"s":"T","x":-9.36,"y":84},{"s":"T","x":-9.27,"y":66},{"s":"T","x":-9.14,"y":94},{"s":"T","x":-9.02,"y":102},{"s":"T","x":-8.89,"y":107},{"s":"T","x":-8.79,"y":92},{"s":"T","x":-8.69,"y":69},{"s":"T","x":-8.55,"y":111},{"s":"T","x":-8.43,"y":124},{"s":"T","x":-8.33,"y":112},{"s":"T","x":-8.25,"y":96},{"s":"T","x":-8.15,"y":52},{"s":"T","x":-8.01,"y":79},{"s":"T","x":-7.91,"y":56},{"s":"T","x":-7.81,"y":17},{"s":"T","x":-7.71,"y":17},{"s":"T","x":-7.56,"y":34},{"s":"T","x":-7.47,"y":31},{"s":"T","x":-7.37,"y":26},{"s":"T","x":-7.27,"y":29},{"s":"T","x":-7.17,"y":21},{"s":"T","x":-7.02,"y":19},{"s":"T","x":-6.92,"y":0},{"s":"T","x":-6.78,"y":0},{"s":"T","x":-6.68,"y":36},{"s":"T","x":-6.58,"y":34},{"s":"T","x":-6.5,"y":42},{"s":"T","x":-6.43,"y":22},{"s":"T","x":-6.36,"y":0},{"s":"T","x":-3.09,"y":0},{"s":"T","x":-2.99,"y":16},{"s":"T","x":-2.89,"y":0},{"s":"T","x":-2.5,"y":0},{"s":"T","x":-2.37,"y":32},{"s":"T","x":-2.25,"y":0},{"s":"T","x":-2.11,"y":0},{"s":"T","x":-1.96,"y":27},{"s":"T","x":-1.86,"y":22},{"s":"T","x":-1.76,"y":19},{"s":"T","x":-1.64,"y":31},{"s":"T","x":-1.55,"y":22},{"s":"T","x":-1.45,"y":32},{"s":"T","x":-1.32,"y":22},{"s":"T","x":-1.22,"y":34},{"s":"T","x":-1.12,"y":29},{"s":"T","x":-1.02,"y":41},{"s":"T","x":-0.93,"y":52},{"s":"T","x":-0.8,"y":39},{"s":"T","x":-0.68,"y":52},{"s":"T","x":-0.56,"y":46},{"s":"T","x":-0.46,"y":56},{"s":"T","x":-0.34,"y":49},{"s":"T","x":-0.24,"y":59},{"s":"T","x":-0.14,"y":62},{"s":"T","x":-0.07,"y":61},{"s":"T","x":0.2,"y":65}
]
},
"vconcat":[
{"width":549,"height":144,"resolve":{"axis":{"x":"independent"}},"layer":[
{"data":{"name":"p1"},"transform":[{"filter":"datum.s == 'Si'"}],"mark":{"type":"line","clip":true,"strokeWidth":3,"strokeJoin":"round"},
"encoding":{"x":{"field":"x","type":"quantitative","scale":{"domain":[-16,0.2],"nice":false,"zero":false},"axis":{"orient":"bottom","values":[-16,-14,-12,-10,-8,-6,-4,-2,0],"tickSize":-12,"labels":false,"title":null}},
"y":{"field":"y","type":"quantitative","scale":{"domain":[0,144],"nice":false},"axis":null},
"color":{"field":"s","type":"nominal","scale":{"domain":["C","Ga","N","Si","O","Zn","T"],"range":["#cc22ee","#77ee33","#2020ee","#cfcfcf","#d42a2a","#e39a3a","#000000"]},
"legend":{"orient":"none","legendX":-22,"legendY":-45,"title":null,"fillColor":"white","strokeColor":"black","padding":6,"labelFont":"Liberation Serif","labelFontSize":16,"labelColor":"black","symbolType":"M-1.5,0H1.5","symbolSize":380,"symbolStrokeWidth":2.5,"symbolOffset":6,"labelOffset":17,"rowPadding":2.3,"labelExpr":"datum.label == 'T' ? 'Total DOS' : datum.label + ' pDOS'"}}}},
{"data":{"name":"p1"},"transform":[{"filter":"datum.s != 'Si' && datum.s != 'T'"}],"mark":{"type":"line","clip":true,"strokeWidth":2,"strokeJoin":"round"},
"encoding":{"x":{"field":"x","type":"quantitative","scale":{"domain":[-16,0.2],"nice":false,"zero":false},"axis":{"orient":"bottom","values":[-16,-15,-14,-13,-12,-11,-10,-9,-8,-7,-6,-5,-4,-3,-2,-1,0],"tickSize":-7,"labels":false,"title":null}},
"y":{"field":"y","type":"quantitative","scale":{"domain":[0,144],"nice":false},"axis":null},
"color":{"field":"s","type":"nominal","scale":{"domain":["C","Ga","N","Si","O","Zn","T"],"range":["#cc22ee","#77ee33","#2020ee","#cfcfcf","#d42a2a","#e39a3a","#000000"]},"legend":null}}},
{"data":{"name":"p1"},"transform":[{"filter":"datum.s == 'T'"}],"mark":{"type":"line","clip":true,"strokeWidth":2.5,"strokeJoin":"round"},
"encoding":{"x":{"field":"x","type":"quantitative","scale":{"domain":[-16,0.2],"nice":false,"zero":false},"axis":{"orient":"top","values":[-15,-10,-5,0],"tickSize":-12,"labels":false,"title":null}},
"y":{"field":"y","type":"quantitative","scale":{"domain":[0,144],"nice":false},"axis":null},
"color":{"field":"s","type":"nominal","scale":{"domain":["C","Ga","N","Si","O","Zn","T"],"range":["#cc22ee","#77ee33","#2020ee","#cfcfcf","#d42a2a","#e39a3a","#000000"]},"legend":null}}},
{"data":{"values":[{"x":-6.09,"y":108,"t":"(GaN)₁₂@(SiC)₄₈"}]},"mark":{"type":"text","align":"left","baseline":"alphabetic","font":"Liberation Sans","fontSize":26,"color":"black"},
"encoding":{"x":{"field":"x","type":"quantitative","scale":{"domain":[-16,0.2],"nice":false,"zero":false},"axis":{"orient":"top","values":[-15,-13.75,-12.5,-11.25,-10,-8.75,-7.5,-6.25,-5,-3.75,-2.5,-1.25,0],"tickSize":-7,"labels":false,"title":null}},
"y":{"field":"y","type":"quantitative","scale":{"domain":[0,144],"nice":false},"axis":null},"text":{"field":"t"}}}
]},
{"width":549,"height":144,"resolve":{"axis":{"x":"independent","y":"independent"}},"layer":[
{"data":{"name":"p2"},"transform":[{"filter":"datum.s == 'Si'"}],"mark":{"type":"line","clip":true,"strokeWidth":3,"strokeJoin":"round"},
"encoding":{"x":{"field":"x","type":"quantitative","scale":{"domain":[-16,0.2],"nice":false,"zero":false},"axis":{"orient":"bottom","values":[-16,-14,-12,-10,-8,-6,-4,-2,0],"tickSize":-12,"labels":false,"title":null}},
"y":{"field":"y","type":"quantitative","scale":{"domain":[0,144],"nice":false},"axis":{"orient":"left","title":"DOS (arb. units)","labels":false,"ticks":false,"domain":false,"titleFontSize":18.5,"titleFontWeight":"bold","titleAnchor":"start","titleAlign":"center","titlePadding":11}},
"color":{"field":"s","type":"nominal","scale":{"domain":["C","Ga","N","Si","O","Zn","T"],"range":["#cc22ee","#77ee33","#2020ee","#cfcfcf","#d42a2a","#e39a3a","#000000"]},"legend":null}}},
{"data":{"name":"p2"},"transform":[{"filter":"datum.s != 'Si' && datum.s != 'T'"}],"mark":{"type":"line","clip":true,"strokeWidth":2,"strokeJoin":"round"},
"encoding":{"x":{"field":"x","type":"quantitative","scale":{"domain":[-16,0.2],"nice":false,"zero":false},"axis":{"orient":"bottom","values":[-16,-15,-14,-13,-12,-11,-10,-9,-8,-7,-6,-5,-4,-3,-2,-1,0],"tickSize":-7,"labels":false,"title":null}},
"y":{"field":"y","type":"quantitative","scale":{"domain":[0,144],"nice":false},"axis":null},
"color":{"field":"s","type":"nominal","scale":{"domain":["C","Ga","N","Si","O","Zn","T"],"range":["#cc22ee","#77ee33","#2020ee","#cfcfcf","#d42a2a","#e39a3a","#000000"]},"legend":null}}},
{"data":{"name":"p2"},"transform":[{"filter":"datum.s == 'T'"}],"mark":{"type":"line","clip":true,"strokeWidth":2.5,"strokeJoin":"round"},
"encoding":{"x":{"field":"x","type":"quantitative","scale":{"domain":[-16,0.2],"nice":false,"zero":false},"axis":{"orient":"top","values":[-16,-14,-12,-10,-8,-6,-4,-2,0],"tickSize":-12,"labels":false,"title":null}},
"y":{"field":"y","type":"quantitative","scale":{"domain":[0,144],"nice":false},"axis":null},
"color":{"field":"s","type":"nominal","scale":{"domain":["C","Ga","N","Si","O","Zn","T"],"range":["#cc22ee","#77ee33","#2020ee","#cfcfcf","#d42a2a","#e39a3a","#000000"]},"legend":null}}},
{"data":{"values":[{"x":-6.09,"y":112,"t":"(SiC)₁₂@(GaN)₄₈"}]},"mark":{"type":"text","align":"left","baseline":"alphabetic","font":"Liberation Sans","fontSize":26,"color":"black"},
"encoding":{"x":{"field":"x","type":"quantitative","scale":{"domain":[-16,0.2],"nice":false,"zero":false},"axis":{"orient":"top","values":[-16,-15,-14,-13,-12,-11,-10,-9,-8,-7,-6,-5,-4,-3,-2,-1,0],"tickSize":-7,"labels":false,"title":null}},
"y":{"field":"y","type":"quantitative","scale":{"domain":[0,144],"nice":false},"axis":null},"text":{"field":"t"}}}
]},
{"width":549,"height":144,"resolve":{"axis":{"x":"independent"}},"layer":[
{"data":{"name":"p3"},"transform":[{"filter":"datum.s == 'Si'"}],"mark":{"type":"line","clip":true,"strokeWidth":3,"strokeJoin":"round"},
"encoding":{"x":{"field":"x","type":"quantitative","scale":{"domain":[-16,0.2],"nice":false,"zero":false},"axis":{"orient":"bottom","values":[-16,-14,-12,-10,-8,-6,-4,-2,0],"tickSize":-12,"labels":false,"title":null}},
"y":{"field":"y","type":"quantitative","scale":{"domain":[0,144],"nice":false},"axis":null},
"color":{"field":"s","type":"nominal","scale":{"domain":["C","Ga","N","Si","O","Zn","T"],"range":["#cc22ee","#77ee33","#2020ee","#cfcfcf","#d42a2a","#e39a3a","#000000"]},"legend":null}}},
{"data":{"name":"p3"},"transform":[{"filter":"datum.s != 'Si' && datum.s != 'T'"}],"mark":{"type":"line","clip":true,"strokeWidth":2,"strokeJoin":"round"},
"encoding":{"x":{"field":"x","type":"quantitative","scale":{"domain":[-16,0.2],"nice":false,"zero":false},"axis":{"orient":"bottom","values":[-16,-15,-14,-13,-12,-11,-10,-9,-8,-7,-6,-5,-4,-3,-2,-1,0],"tickSize":-7,"labels":false,"title":null}},
"y":{"field":"y","type":"quantitative","scale":{"domain":[0,144],"nice":false},"axis":null},
"color":{"field":"s","type":"nominal","scale":{"domain":["C","Ga","N","Si","O","Zn","T"],"range":["#cc22ee","#77ee33","#2020ee","#cfcfcf","#d42a2a","#e39a3a","#000000"]},"legend":null}}},
{"data":{"name":"p3"},"transform":[{"filter":"datum.s == 'T'"}],"mark":{"type":"line","clip":true,"strokeWidth":2.5,"strokeJoin":"round"},
"encoding":{"x":{"field":"x","type":"quantitative","scale":{"domain":[-16,0.2],"nice":false,"zero":false},"axis":{"orient":"top","values":[-16,-14,-12,-10,-8,-6,-4,-2,0],"tickSize":-12,"labels":false,"title":null}},
"y":{"field":"y","type":"quantitative","scale":{"domain":[0,144],"nice":false},"axis":null},
"color":{"field":"s","type":"nominal","scale":{"domain":["C","Ga","N","Si","O","Zn","T"],"range":["#cc22ee","#77ee33","#2020ee","#cfcfcf","#d42a2a","#e39a3a","#000000"]},"legend":null}}},
{"data":{"values":[{"x":-6.03,"y":113,"t":"(ZnO)₁₂@(SiC)₄₈"}]},"mark":{"type":"text","align":"left","baseline":"alphabetic","font":"Liberation Sans","fontSize":26,"color":"black"},
"encoding":{"x":{"field":"x","type":"quantitative","scale":{"domain":[-16,0.2],"nice":false,"zero":false},"axis":{"orient":"top","values":[-16,-15,-14,-13,-12,-11,-10,-9,-8,-7,-6,-5,-4,-3,-2,-1,0],"tickSize":-7,"labels":false,"title":null}},
"y":{"field":"y","type":"quantitative","scale":{"domain":[0,144],"nice":false},"axis":null},"text":{"field":"t"}}}
]},
{"width":549,"height":144,"resolve":{"axis":{"x":"independent"}},"layer":[
{"data":{"name":"p4"},"transform":[{"filter":"datum.s == 'Si'"}],"mark":{"type":"line","clip":true,"strokeWidth":3,"strokeJoin":"round"},
"encoding":{"x":{"field":"x","type":"quantitative","scale":{"domain":[-16,0.2],"nice":false,"zero":false},"axis":{"orient":"bottom","values":[-16,-14,-12,-10,-8,-6,-4,-2,0],"ticks":false,"labels":true,"labelFont":"Liberation Serif","labelFontSize":19,"labelPadding":10,"labelFlush":false,"labelOverlap":false,"labelExpr":"'' + datum.value","title":"Energy relative to vacuum (eV)","titleFontSize":20,"titleFontWeight":"bold","titlePadding":5}},
"y":{"field":"y","type":"quantitative","scale":{"domain":[0,144],"nice":false},"axis":null},
"color":{"field":"s","type":"nominal","scale":{"domain":["C","Ga","N","Si","O","Zn","T"],"range":["#cc22ee","#77ee33","#2020ee","#cfcfcf","#d42a2a","#e39a3a","#000000"]},"legend":null}}},
{"data":{"name":"p4"},"transform":[{"filter":"datum.s != 'Si' && datum.s != 'T'"}],"mark":{"type":"line","clip":true,"strokeWidth":2,"strokeJoin":"round"},
"encoding":{"x":{"field":"x","type":"quantitative","scale":{"domain":[-16,0.2],"nice":false,"zero":false},"axis":{"orient":"bottom","values":[-16,-14,-12,-10,-8,-6,-4,-2,0],"tickSize":-12,"labels":false,"title":null}},
"y":{"field":"y","type":"quantitative","scale":{"domain":[0,144],"nice":false},"axis":null},
"color":{"field":"s","type":"nominal","scale":{"domain":["C","Ga","N","Si","O","Zn","T"],"range":["#cc22ee","#77ee33","#2020ee","#cfcfcf","#d42a2a","#e39a3a","#000000"]},"legend":null}}},
{"data":{"name":"p4"},"transform":[{"filter":"datum.s == 'T'"}],"mark":{"type":"line","clip":true,"strokeWidth":2.5,"strokeJoin":"round"},
"encoding":{"x":{"field":"x","type":"quantitative","scale":{"domain":[-16,0.2],"nice":false,"zero":false},"axis":{"orient":"bottom","values":[-16,-15.333,-14.667,-14,-13.333,-12.667,-12,-11.333,-10.667,-10,-9.333,-8.667,-8,-7.333,-6.667,-6,-5.333,-4.667,-4,-3.333,-2.667,-2,-1.333,-0.667,0],"tickSize":-7,"labels":false,"title":null}},
"y":{"field":"y","type":"quantitative","scale":{"domain":[0,144],"nice":false},"axis":null},
"color":{"field":"s","type":"nominal","scale":{"domain":["C","Ga","N","Si","O","Zn","T"],"range":["#cc22ee","#77ee33","#2020ee","#cfcfcf","#d42a2a","#e39a3a","#000000"]},"legend":null}}},
{"data":{"values":[{"x":-6.03,"y":106,"t":"(SiC)₁₂@(ZnO)₄₈"}]},"mark":{"type":"text","align":"left","baseline":"alphabetic","font":"Liberation Sans","fontSize":26,"color":"black"},
"encoding":{"x":{"field":"x","type":"quantitative","scale":{"domain":[-16,0.2],"nice":false,"zero":false},"axis":{"orient":"top","values":[-16,-14,-12,-10,-8,-6,-4,-2,0],"tickSize":-12,"labels":false,"title":null}},
"y":{"field":"y","type":"quantitative","scale":{"domain":[0,144],"nice":false},"axis":null},"text":{"field":"t"}}},
{"data":{"values":[{"x":-16}]},"mark":{"type":"rule","opacity":0},
"encoding":{"x":{"field":"x","type":"quantitative","scale":{"domain":[-16,0.2],"nice":false,"zero":false},"axis":{"orient":"top","values":[-16,-15.333,-14.667,-14,-13.333,-12.667,-12,-11.333,-10.667,-10,-9.333,-8.667,-8,-7.333,-6.667,-6,-5.333,-4.667,-4,-3.333,-2.667,-2,-1.333,-0.667,0],"tickSize":-7,"labels":false,"title":null}}}}
]}
]
}
